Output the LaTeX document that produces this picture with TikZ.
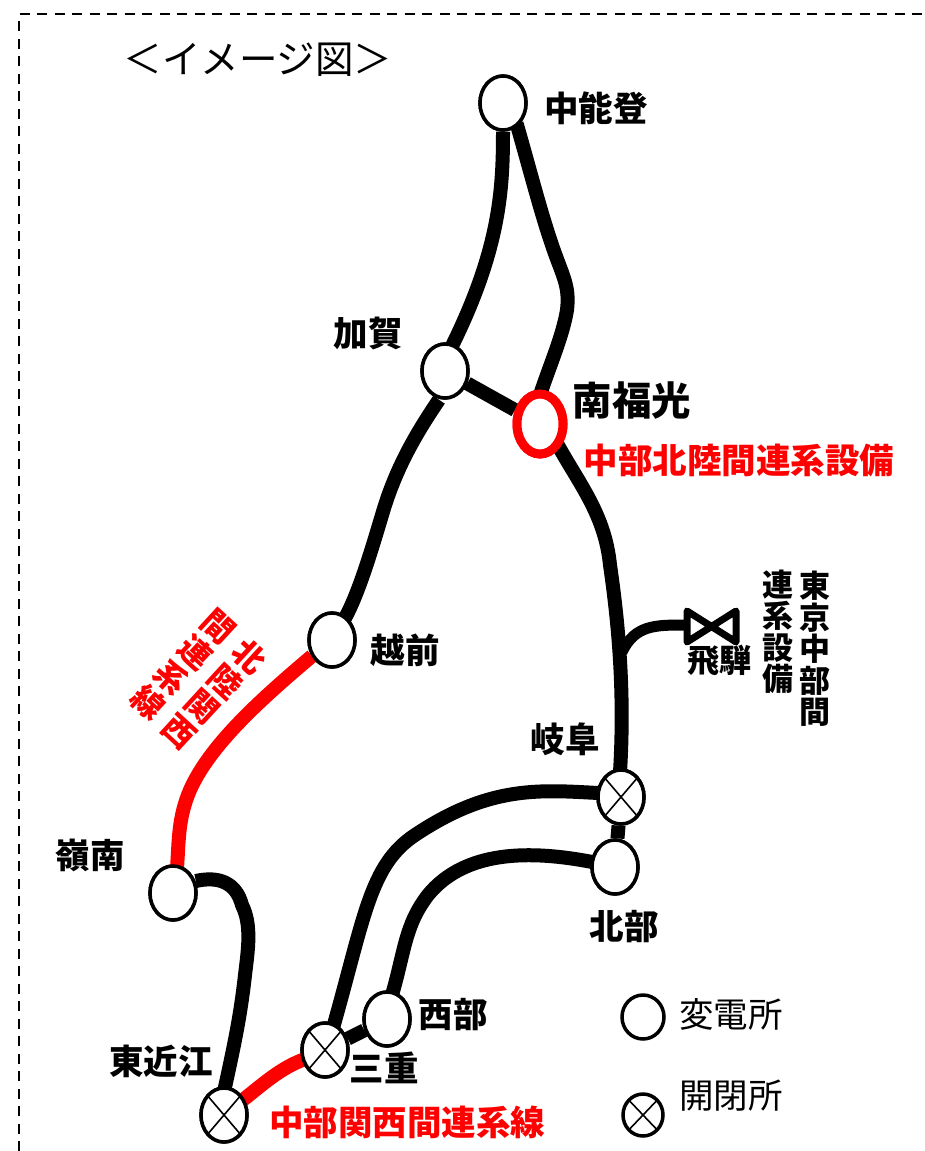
\documentclass[tikz,border=0pt]{standalone}
\usepackage{fontspec}
\setmainfont[BoldFont={Noto Sans CJK JP Black}]{Noto Sans CJK JP}
\usetikzlibrary{shapes.geometric}
\tikzset{
  wire/.style={line width=14pt,black,line join=round},
  redwire/.style={wire,red},
  sub/.style={ellipse,draw=black,fill=white,line width=3.5pt,minimum width=46pt,minimum height=54pt,inner sep=0pt},
  redsub/.style={sub,draw=red,line width=9pt,minimum width=46pt,minimum height=60pt},
  sw/.style={sub,path picture={\draw[line width=1.6pt] (path picture bounding box.north west)--(path picture bounding box.south east) (path picture bounding box.north east)--(path picture bounding box.south west);}},
  lab/.style={font=\fontsize{34.5}{36}\selectfont\bfseries,inner sep=0pt},
  bigred/.style={lab,text=red,font=\fontsize{34.5}{36}\selectfont\bfseries},
  legendlab/.style={font=\fontsize{34.5}{36}\selectfont,inner sep=0pt},
  column/.style={font=\fontsize{31}{31.5}\selectfont\bfseries,inner sep=0pt,align=center},
  slanted/.style={font=\fontsize{32}{34.4}\selectfont\bfseries,text=red,inner sep=0pt,align=center,rotate=-42.6},
  frame/.style={line width=2.5pt,dash pattern=on 10pt off 7.5pt},
  valve/.style={line width=7pt,line join=round}
}
\begin{document}
\begin{tikzpicture}[x=1pt,y=-1pt]
\useasboundingbox (0,0) rectangle (925,1151);
\draw[frame] (19,1151) -- (19,14) -- (925,14);
\node[legendlab,font=\fontsize{38.5}{40}\selectfont] (title) at (258,60) {＜イメージ図＞};

% stations
\node[sub] (noto) at (503,103) {};
\node[sub] (kaga) at (445,371) {};
\node[redsub] (fuko) at (540,424) {};
\node[sub] (echizen) at (332,640) {};
\node[sub] (reinan) at (173,893) {};
\node[sw] (gifu) at (621,797) {};
\node[sub] (hokubu) at (615,867) {};
\node[sub] (seibu) at (387,1019) {};
\node[sw] (mie) at (325,1050) {};
\node[sw] (higashi) at (224,1115) {};
\node[sub,minimum width=42pt,minimum height=44pt] (lsub) at (643,1017) {};
\node[sw,minimum width=40pt,minimum height=42pt] (lsw) at (643,1115) {};

% valve
\coordinate (vtl) at (687,611);
\coordinate (vtr) at (736,611);
\coordinate (vbl) at (687,642);
\coordinate (vbr) at (736,642);
\coordinate (vin) at (685,625);
\coordinate (branch) at (622,652);
\draw[valve] (vtl) -- (vbr) -- (vtr) -- (vbl) -- cycle;

% connectors
\draw[wire] (noto.south) .. controls (503,190) and (500,250) .. (450,350);
\draw[wire] (noto.south east) ++(-4,0) .. controls (530,170) and (540,210) .. (552,245) .. controls (562,275) and (570,285) .. (567,310) .. controls (563,335) and (550,365) .. (541,392);
\draw[wire] (kaga) -- (fuko);
\draw[wire] (kaga.south) ++(-6,0) .. controls (415,435) and (395,470) .. (382,515) .. controls (370,555) and (358,595) .. (344,620);
\draw[wire] (fuko.south east) ++(-2,-4) .. controls (580,485) and (605,515) .. (610,565) .. controls (618,620) and (625,690) .. (620,772);
\draw[wire] (gifu) -- (hokubu);
\draw[wire,line width=11pt] (branch) .. controls (635,625) and (655,625) .. (vin);
\draw[wire] (gifu.west) ++(2,-4) .. controls (540,790) and (490,785) .. (415,835) .. controls (370,865) and (365,915) .. (333,1028);
\draw[wire] (hokubu.west) ++(2,-5) .. controls (530,850) and (465,850) .. (428,895) .. controls (405,925) and (405,950) .. (392,995);
\draw[wire] (mie) -- (seibu);
\draw[redwire] (echizen) ++(-20,16) .. controls (260,700) and (210,745) .. (190,790) .. controls (178,818) and (179,840) .. (177,868);
\draw[wire] (reinan.east) ++(-2,-12) .. controls (218,876) and (236,882) .. (242,905) .. controls (252,925) and (248,950) .. (245,975) .. controls (240,1020) and (233,1050) .. (224,1092);
\draw[redwire] (higashi.north east) ++(-2,8) .. controls (262,1085) and (280,1068) .. (305,1059);

% redraw nodes over the connectors
\node[sub] at (noto) {};
\node[sub] at (kaga) {};
\node[redsub] at (fuko) {};
\node[sub] at (echizen) {};
\node[sub] at (reinan) {};
\node[sw] at (gifu) {};
\node[sub] at (hokubu) {};
\node[sub] at (seibu) {};
\node[sw] at (mie) {};
\node[sw] at (higashi) {};

% labels
\node[lab] (lnoto) at (596,108) {中能登};
\node[lab] (lkaga) at (368,333) {加賀};
\node[lab,font=\fontsize{39.5}{40}\selectfont\bfseries] (lfuko) at (632,401) {南福光};
\node[bigred] (lhokuriku) at (739,460) {中部北陸間連系設備};
\node[lab] (lechizen) at (405,650) {越前};
\node[lab,font=\fontsize{32}{32}\selectfont\bfseries] (lhida) at (719,661) {飛騨};
\node[lab] (lgifu) at (565,739) {岐阜};
\node[lab] (lhokubu) at (624,927) {北部};
\node[lab] (lreinan) at (90,855) {嶺南};
\node[lab] (lseibu) at (453,1015) {西部};
\node[lab] (lmie) at (384,1068) {三重};
\node[lab] (lhigashi) at (161,1061) {東近江};
\node[bigred] (lkansai) at (407,1122) {中部関西間連系線};
\node[legendlab] (llsub) at (731,1014) {変電所};
\node[legendlab] (llsw) at (731,1096) {開閉所};
\node[column] (tokyo) at (815,649) {東\\京\\中\\部\\間};
\node[column] (renkei) at (778,632) {連\\系\\設\\備};
\node[slanted] (hokusei1) at (214,694) {北\\陸\\関\\西};
\node[slanted] (hokusei2) at (183,665) {間\\連\\系\\線};
\end{tikzpicture}
\end{document}
